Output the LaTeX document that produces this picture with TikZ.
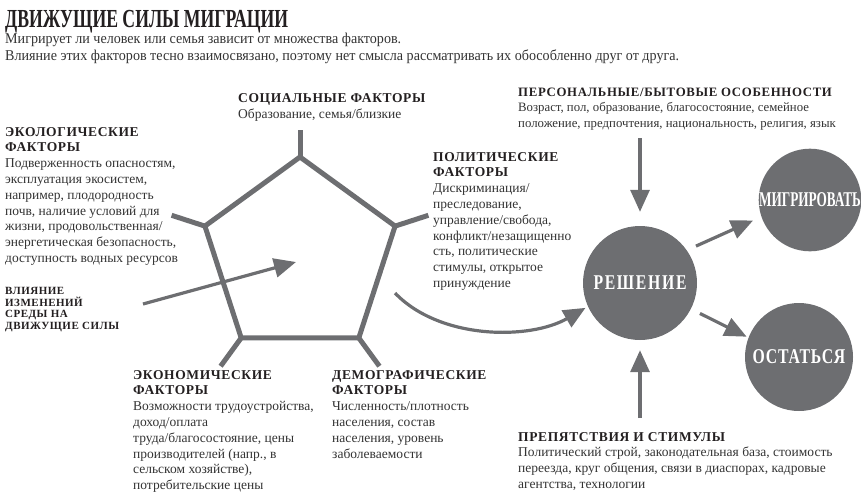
\documentclass[tikz,border=0pt]{standalone}
\usepackage{fontspec}
\setmainfont{Liberation Serif}
\newfontfamily\condfont[FakeStretch=0.75]{Liberation Serif}
\newfontfamily\titlefont[FakeStretch=0.68]{Liberation Serif}
\newfontfamily\migfont[FakeStretch=0.63]{Liberation Serif}
\newfontfamily\subfont[FakeStretch=0.94]{Liberation Serif}
\newfontfamily\headfont[LetterSpace=4.6]{Liberation Serif}
\newfontfamily\smallhead[LetterSpace=4.5]{Liberation Serif}
\usetikzlibrary{arrows.meta}
\definecolor{shapegray}{HTML}{6D6E71}
\definecolor{ink}{HTML}{231F20}
\definecolor{bodyink}{HTML}{333333}
\newcommand\hd[1]{{\headfont\bfseries\color{ink}#1}}
\begin{document}
\begin{tikzpicture}[x=1pt,y=-1pt,
  txt/.style={anchor=north west, inner sep=0pt, align=left, text=bodyink,
    font=\fontsize{13.5}{15.8}\selectfont},
  frame/.style={draw=shapegray, line width=5pt, line join=miter},
  spoke/.style={draw=shapegray, line width=5pt},
  arr/.style={draw=shapegray, line width=3.2pt,
    -{Triangle[length=22pt,width=19pt]}},
  outcome/.style={circle, fill=shapegray, inner sep=0pt, text=white,
    font=\condfont\bfseries\fontsize{21}{23}\selectfont}]
\useasboundingbox (0,0) rectangle (861,496);

% title and introduction
\node[anchor=north west, inner sep=0pt, text=ink,
  font=\titlefont\bfseries\fontsize{26}{28}\selectfont] (title) at (5,10)
  {ДВИЖУЩИЕ СИЛЫ МИГРАЦИИ};
\node[anchor=north west, inner sep=0pt, align=left, text=bodyink,
  font=\subfont\fontsize{15}{17}\selectfont] (intro) at (5,33)
  {Мигрирует ли человек или семья зависит от множества факторов.\\
   Влияние этих факторов тесно взаимосвязано, поэтому нет смысла рассматривать их обособленно друг от друга.};

% the pentagon of driving forces
\coordinate (pt) at (300,157);
\coordinate (pul) at (204.9,226.1);
\coordinate (pur) at (395.1,226.1);
\coordinate (pbl) at (241.2,337.9);
\coordinate (pbr) at (358.8,337.9);
\coordinate (st) at (300,130);
\coordinate (sul) at (171.6,215.3);
\coordinate (sur) at (428.4,215.3);
\coordinate (sbl) at (220.6,366.2);
\coordinate (sbr) at (379.4,366.2);
\draw[spoke] (pt) -- (st);
\draw[spoke] (pul) -- (sul);
\draw[spoke] (pur) -- (sur);
\draw[spoke] (pbl) -- (sbl);
\draw[spoke] (pbr) -- (sbr);
\draw[frame] (pt) -- (pur) -- (pbr) -- (pbl) -- (pul) -- cycle;

% factor descriptions
\node[txt] (soc) at (238,93)
  {\hd{СОЦИАЛЬНЫЕ ФАКТОРЫ}\\[1pt]Образование, семья/близкие};
\node[txt] (eco) at (5,127)
  {\hd{ЭКОЛОГИЧЕСКИЕ}\\\hd{ФАКТОРЫ}\\
   Подверженность опасностям,\\
   эксплуатация экосистем,\\
   например, плодородность\\
   почв, наличие условий для\\
   жизни, продовольственная/\\
   энергетическая безопасность,\\
   доступность водных ресурсов};
\node[anchor=north west, inner sep=0pt, align=left, text=ink,
  font=\smallhead\bfseries\fontsize{11}{11.7}\selectfont] (env) at (5,287)
  {ВЛИЯНИЕ\\ИЗМЕНЕНИЙ\\СРЕДЫ НА\\ДВИЖУЩИЕ СИЛЫ};
\node[txt] (pol) at (433,152)
  {\hd{ПОЛИТИЧЕСКИЕ}\\\hd{ФАКТОРЫ}\\
   Дискриминация/\\
   преследование,\\
   управление/свобода,\\
   конфликт/незащищенно\\
   сть, политические\\
   стимулы, открытое\\
   принуждение};
\node[txt] (econ) at (133,370)
  {\hd{ЭКОНОМИЧЕСКИЕ}\\\hd{ФАКТОРЫ}\\
   Возможности трудоустройства,\\
   доход/оплата\\
   труда/благосостояние, цены\\
   производителей (напр., в\\
   сельском хозяйстве),\\
   потребительские цены};
\node[txt] (dem) at (332,370)
  {\hd{ДЕМОГРАФИЧЕСКИЕ}\\\hd{ФАКТОРЫ}\\
   Численность/плотность\\
   населения, состав\\
   населения, уровень\\
   заболеваемости};
\node[txt, font=\fontsize{12.8}{15.2}\selectfont] (pers) at (518,88)
  {{\headfont\bfseries\color{ink}\addfontfeature{LetterSpace=5.2}ПЕРСОНАЛЬНЫЕ/БЫТОВЫЕ ОСОБЕННОСТИ}\\
   Возраст, пол, образование, благосостояние, семейное\\
   положение, предпочтения, национальность, религия, язык};
\node[txt] (obst) at (518,432)
  {\hd{ПРЕПЯТСТВИЯ И СТИМУЛЫ}\\
   Политический строй, законодательная база, стоимость\\
   переезда, круг общения, связи в диаспорах, кадровые\\
   агентства, технологии};

% decision and its outcomes
\node[outcome, minimum size=114pt] (dec) at (640,283)
  {\addfontfeature{LetterSpace=8}РЕШЕНИЕ};
\node[outcome, minimum size=102pt, font=\migfont\bfseries\fontsize{21}{23}\selectfont]
  (mig) at (810,200) {МИГРИРОВАТЬ};
\node[outcome, minimum size=108pt] (stay) at (799,357)
  {\addfontfeature{LetterSpace=4}ОСТАТЬСЯ};

% connectors
\coordinate (envtail) at (143,304);
\coordinate (envhead) at (296,262);
\draw[arr] (envtail) -- (envhead);
\coordinate (poltail) at (395,293);
\draw[arr] (poltail) .. controls (440,340) and (530,340) .. ([shift={(-4pt,2pt)}]dec.208);
\coordinate (perstail) at (640,138);
\draw[arr, shorten >=14pt] (perstail) -- (dec.north);
\coordinate (obsttail) at (640,418);
\draw[arr, shorten >=10pt] (obsttail) -- (dec.south);
\draw[arr, shorten <=10pt, shorten >=9pt] (dec.35) -- (mig.199);
\draw[arr, shorten <=10pt, shorten >=2pt] (dec.333) -- (stay.159);
\end{tikzpicture}
\end{document}
